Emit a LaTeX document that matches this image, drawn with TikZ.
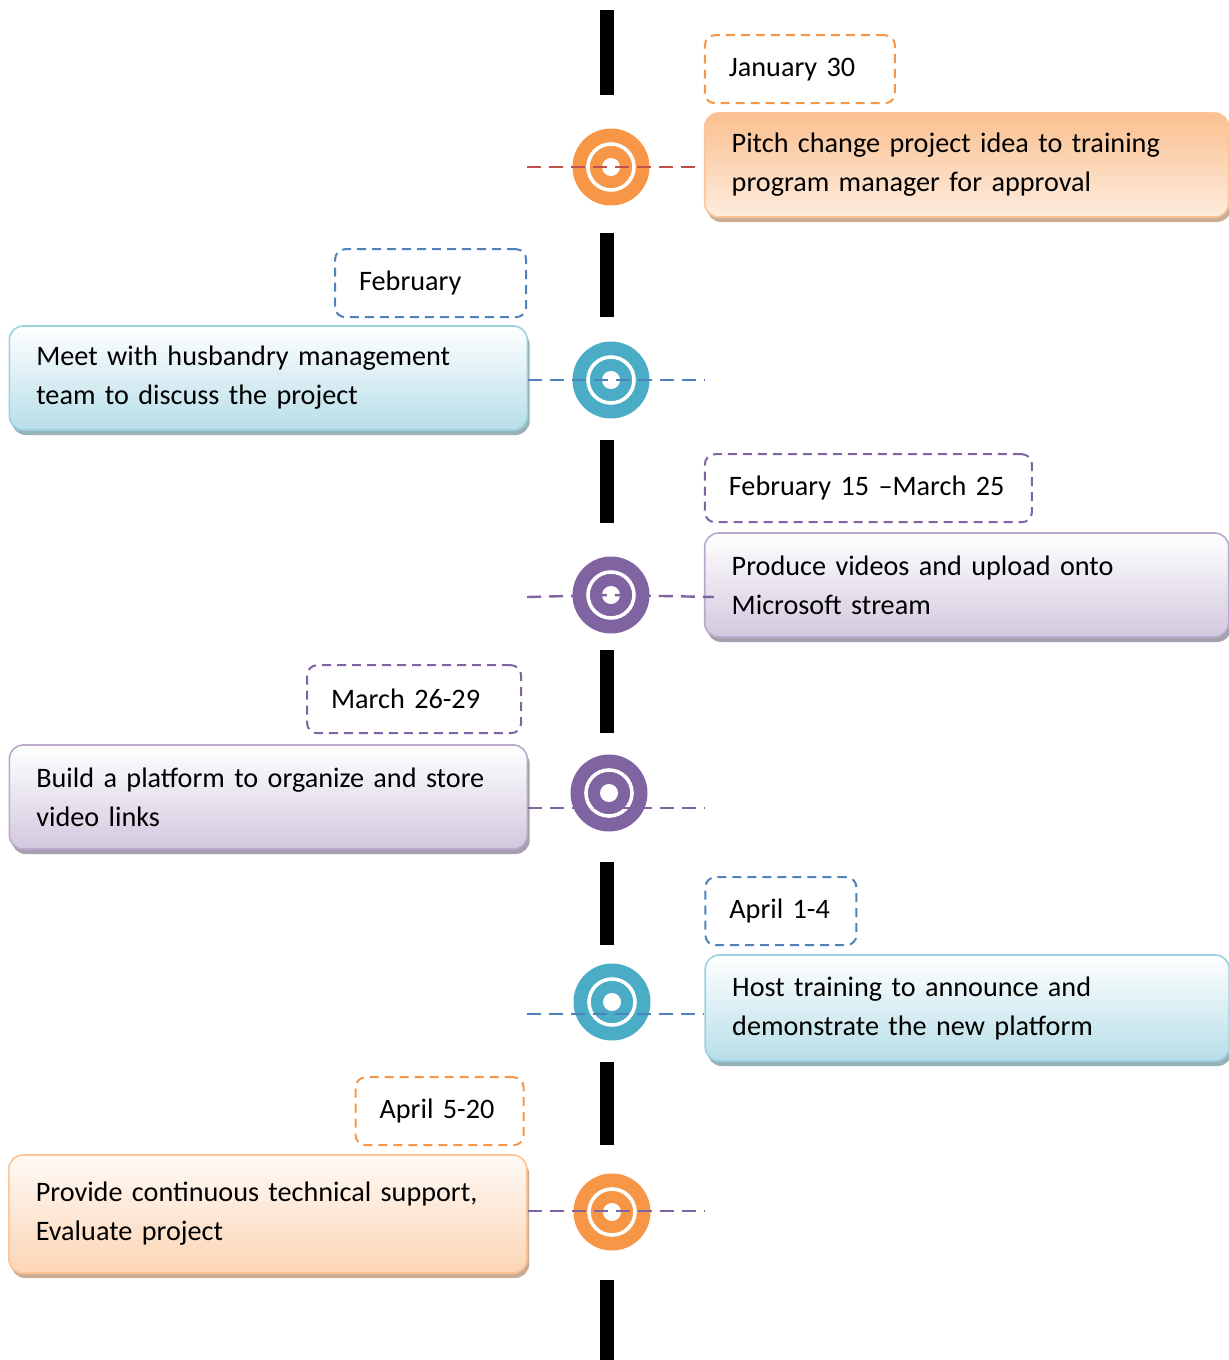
\documentclass[tikz,border=0pt]{standalone}
\usepackage{fontspec}
\setmainfont{Carlito}
\usetikzlibrary{positioning, shadows}
\definecolor{ora}{HTML}{F79646}
\definecolor{teal}{HTML}{4BACC6}
\definecolor{blu}{HTML}{4F81BD}
\definecolor{pur}{HTML}{8064A2}
\definecolor{red}{HTML}{C0504D}

\begin{document}
\begin{tikzpicture}[x=0.5pt, y=-0.5pt, font=\fontsize{14.1}{19.5}\selectfont,
    target/.style={circle, fill=#1, minimum size=38.5pt, inner sep=0pt,
      path picture={\draw[white, line width=1.8pt] (path picture bounding box.center) circle (11.5pt);
        \fill[white] (path picture bounding box.center) circle (4.5pt);}},
    task/.style={rounded corners=7pt, line width=0.8pt, align=left, inner xsep=13.5pt, minimum height=52pt},
    orangetask/.style={task, draw=ora!55, drop shadow={shadow xshift=1.2pt, shadow yshift=-2.5pt, fill=ora!45!gray!70, opacity=1}},
    bluetask/.style={task, draw=teal!55, top color=white, bottom color=teal!40,
      drop shadow={shadow xshift=1.2pt, shadow yshift=-2.5pt, fill=teal!40!gray!70, opacity=1}},
    purpletask/.style={task, draw=pur!55, top color=white, bottom color=pur!35,
      drop shadow={shadow xshift=1.2pt, shadow yshift=-2.5pt, fill=pur!35!gray!70, opacity=1}},
    datebox/.style={draw=#1, dash pattern=on 4.5pt off 3pt, rounded corners=5pt, line width=1pt,
      inner xsep=12pt, minimum height=34pt, align=left},
    link/.style={draw=#1, line width=1.2pt, dash pattern=on 7pt off 4pt}]

  \useasboundingbox (0,0) rectangle (1228,1360);

  % timeline
  \foreach \a/\b in {10/95, 233/317, 440/523, 650/733, 862/945, 1062/1145, 1280/1360}
    \fill[black] (600,\a) rectangle (614,\b);

  % milestones
  \node[target=ora] (c1) at (611,167) {};
  \node[target=teal] (c2) at (611,380) {};
  \node[target=pur] (c3) at (611,595) {};
  \node[target=pur] (c4) at (609,793) {};
  \node[target=teal] (c5) at (612,1002) {};
  \node[target=ora] (c6) at (612,1212) {};

  % tasks
  \node[orangetask, top color=ora!60, bottom color=ora!18, text width=235pt, right=27pt of c1, yshift=1pt] (t1)
    {Pitch change project idea to training\\program manager for approval};
  \node[bluetask, text width=232pt, left=22pt of c2, yshift=1pt] (t2)
    {Meet with husbandry management\\team to discuss the project};
  \node[purpletask, text width=235pt, right=27pt of c3, yshift=5pt] (t3)
    {Produce videos and upload onto\\Microsoft stream};
  \node[purpletask, text width=232pt, left=21pt of c4, yshift=-2pt] (t4)
    {Build a platform to organize and store\\video links};
  \node[bluetask, text width=235pt, minimum height=53pt, right=26.75pt of c5, yshift=-3pt] (t5)
    {Host training to announce and\\demonstrate the new platform};
  \node[orangetask, top color=ora!5, bottom color=ora!40, text width=232pt, minimum height=59pt, left=22.75pt of c6, yshift=-1pt] (t6)
    {Provide continuous technical support,\\Evaluate project};

  % dates
  \node[datebox=ora, text width=71pt, above right=4pt and 0pt of t1.north west] (d1) {January 30};
  \node[datebox=blu, text width=71.5pt, above left=3.5pt and 0.5pt of t2.north east] (d2) {February};
  \node[datebox=pur, text width=139.5pt, above right=4.5pt and 0pt of t3.north west] (d3) {February 15 –March 25};
  \node[datebox=pur, text width=83pt, above left=5pt and 3pt of t4.north east] (d4) {March 26-29};
  \node[datebox=blu, text width=51.5pt, above right=4pt and 0pt of t5.north west] (d5) {April 1-4};
  \node[datebox=ora, text width=60pt, above left=4pt and 1.5pt of t6.north east] (d6) {April 5-20};

  % dashed guides
  \coordinate (e1) at (527,167);
  \coordinate (e2) at (705,380);
  \coordinate (e3) at (527,597);
  \coordinate (e4) at (705,808);
  \coordinate (e5) at (527,1014);
  \coordinate (e6) at (705,1211);
  \draw[link=red] (e1) -- (c1.center) -- ([xshift=-3.5pt]t1.west |- c1.center);
  \draw[link=blu] (t2.east |- e2) -- (c2.center) -- (e2);
  \draw[link=pur] (e3) -- (c3.center) -- ([xshift=5pt]t3.west |- e3);
  \draw[link=pur] (t4.east |- e4) -- (e4);
  \draw[link=blu] (e5) -- (t5.west |- e5);
  \draw[link=pur] (t6.east |- e6) -- (e6);
\end{tikzpicture}
\end{document}
